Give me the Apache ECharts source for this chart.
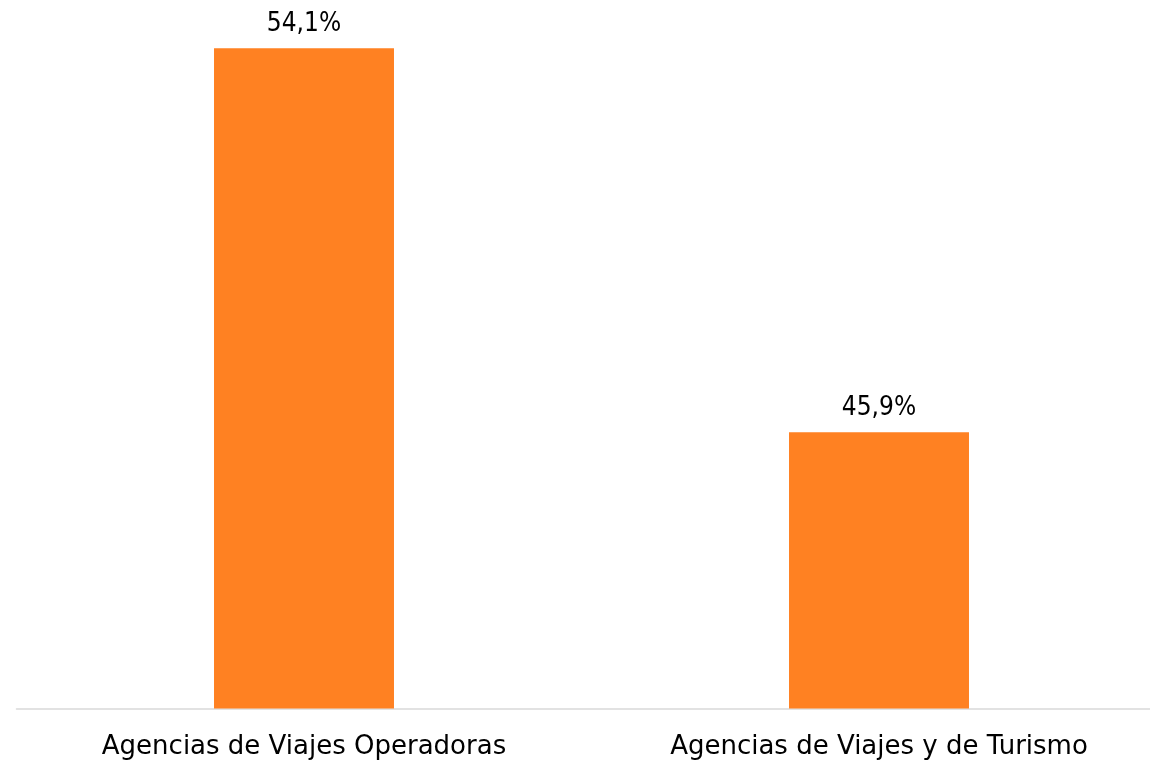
<!DOCTYPE html>
<html><head><meta charset="utf-8">
<script src="https://cdn.jsdelivr.net/npm/echarts@6/dist/echarts.min.js"></script>
<style>html,body{margin:0;padding:0;background:#fff}#c{width:1150px;height:764px}</style>
</head><body><div id="c"></div>
<script>
const categories = ["Agencias de Viajes Operadoras", "Agencias de Viajes y de Turismo"];
const values = [54.1, 45.9];
const chart = echarts.init(document.getElementById('c'), null, {renderer: 'canvas'});
chart.setOption({
  animation: false,
  grid: {left: 16.5, top: 6, width: 1150, bottom: 55.5, containLabel: false, outerBoundsMode: 'none'},
  xAxis: {
    type: 'category', data: categories,
    axisLine: {lineStyle: {color: '#D9D9D9', width: 1.5}},
    axisTick: {show: false},
    axisLabel: {color: '#000', fontFamily: 'DejaVu Sans', fontSize: 26, margin: 26}
  },
  yAxis: {type: 'value', min: 40, max: 55, show: false, splitLine: {show: false}},
  series: [{
    type: 'bar', data: values, barWidth: '31.3%',
    itemStyle: {color: '#FF8122'},
    label: {show: true, position: 'top', distance: 11, color: '#000', fontFamily: 'DejaVu Sans Condensed', fontSize: 26,
      formatter: p => p.value.toFixed(1).replace('.', ',') + '%'}
  }]
});
</script></body></html>
